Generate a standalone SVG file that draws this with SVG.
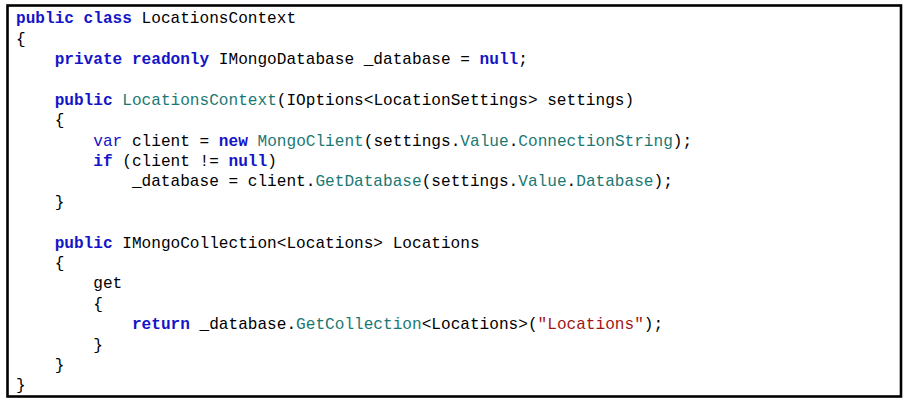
<svg xmlns="http://www.w3.org/2000/svg" width="912" height="408" viewBox="0 0 912 408">
<style>
text{font-family:"Liberation Mono","DejaVu Sans Mono",monospace;font-size:16.1px;fill:#000;white-space:pre}
.k{fill:#1414c8;font-weight:bold}
.kv{fill:#1414c8}
.t{fill:#1a7873}
.s{fill:#a31515}
</style>
<rect x="0" y="0" width="912" height="408" fill="#fff"/>
<g id="code-box">
<rect x="7.5" y="5.5" width="893.5" height="391" fill="#fff" stroke="#000" stroke-width="2.6"/>
</g>
<g id="code" xml:space="preserve">
<text x="16" y="23.2"><tspan class="k">public class</tspan> LocationsContext</text>
<text x="16" y="43.6">{</text>
<text x="16" y="64">    <tspan class="k">private readonly</tspan> IMongoDatabase _database = <tspan class="k">null</tspan>;</text>
<text x="16" y="104.8">    <tspan class="k">public</tspan> <tspan class="t">LocationsContext</tspan>(IOptions&lt;LocationSettings&gt; settings)</text>
<text x="16" y="125.2">    {</text>
<text x="16" y="145.6">        <tspan class="kv">var</tspan> client = <tspan class="k">new</tspan> <tspan class="t">MongoClient</tspan>(settings.<tspan class="t">Value</tspan>.<tspan class="t">ConnectionString</tspan>);</text>
<text x="16" y="166">        <tspan class="k">if</tspan> (client != <tspan class="k">null</tspan>)</text>
<text x="16" y="186.4">            _database = client.<tspan class="t">GetDatabase</tspan>(settings.<tspan class="t">Value</tspan>.<tspan class="t">Database</tspan>);</text>
<text x="16" y="206.8">    }</text>
<text x="16" y="247.6">    <tspan class="k">public</tspan> IMongoCollection&lt;Locations&gt; Locations</text>
<text x="16" y="268">    {</text>
<text x="16" y="288.4">        get</text>
<text x="16" y="308.8">        {</text>
<text x="16" y="329.2">            <tspan class="k">return</tspan> _database.<tspan class="t">GetCollection</tspan>&lt;Locations&gt;(<tspan class="s">"Locations"</tspan>);</text>
<text x="16" y="349.6">        }</text>
<text x="16" y="370">    }</text>
<text x="16" y="390.4">}</text>
</g>
</svg>
